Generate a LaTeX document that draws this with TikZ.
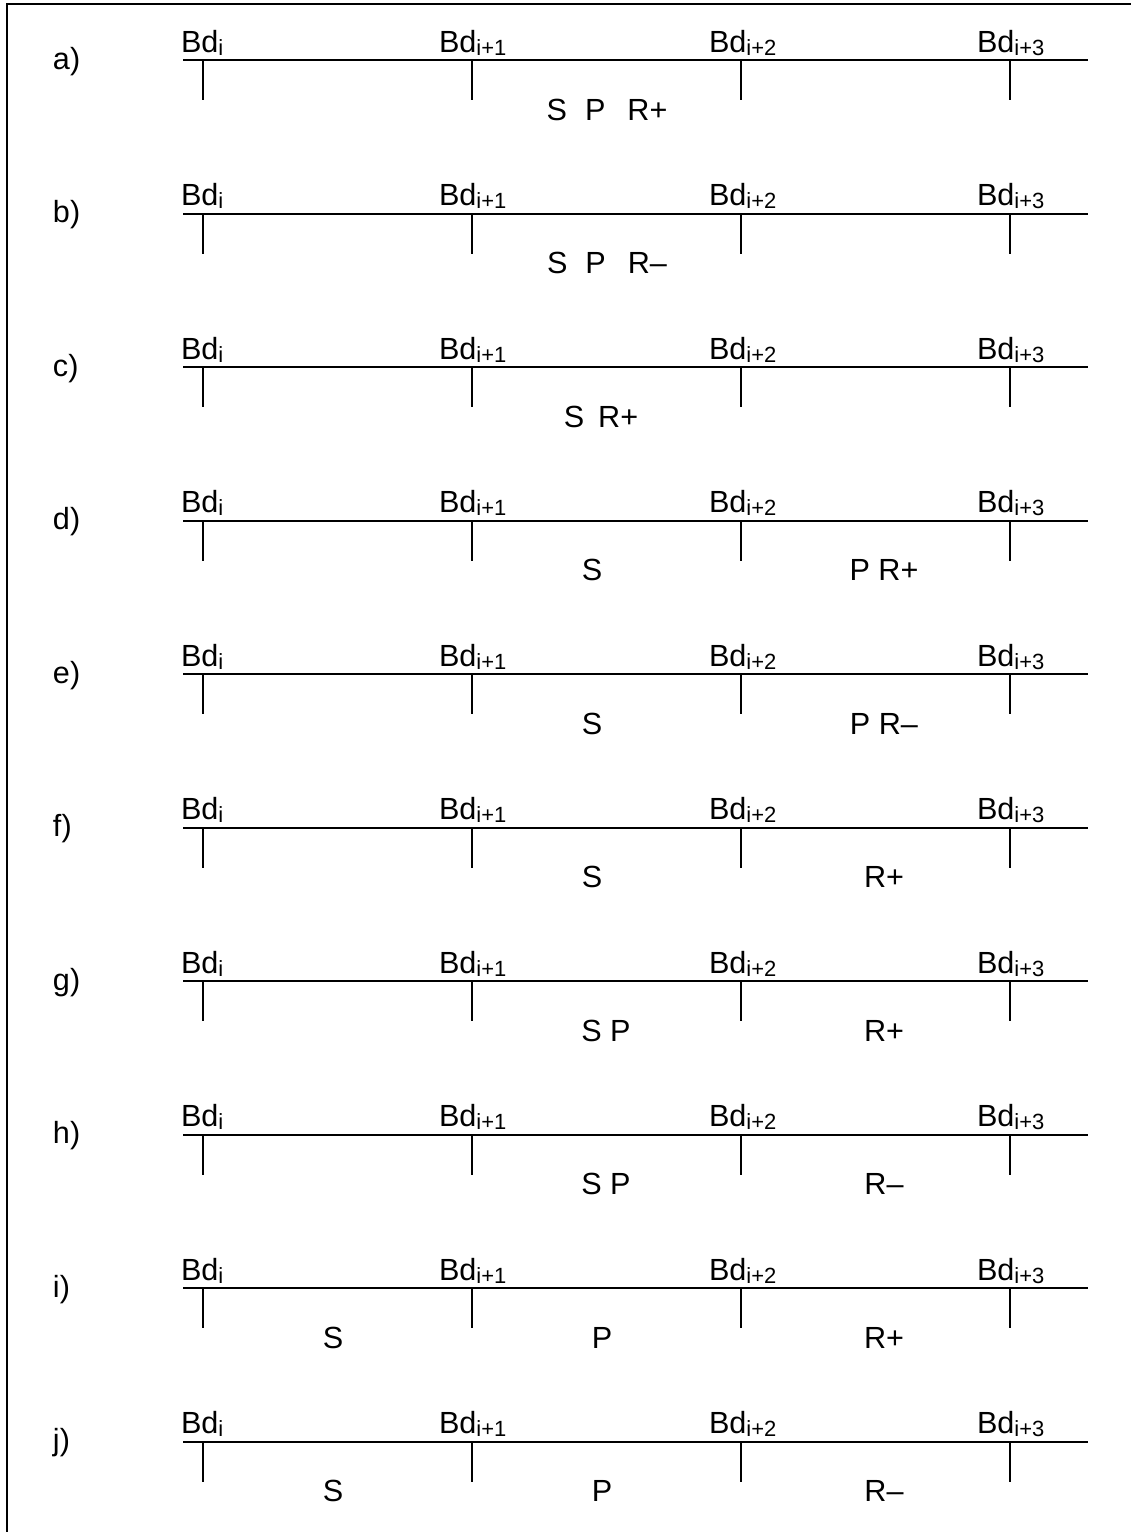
\documentclass[tikz,border=0pt]{standalone}
\usepackage{fontspec}
\setmainfont{Liberation Sans}

\newcommand{\bdsub}[1]{Bd\raisebox{-1.5pt}{\fontsize{11}{13}\selectfont #1}}

\begin{document}
\begin{tikzpicture}[x=0.5pt,y=-0.5pt,line width=1pt,
  rowlabel/.style={anchor=base west,inner sep=0pt,font=\fontsize{15.3}{18}\selectfont},
  bdlabel/.style={anchor=base west,inner sep=0pt,font=\fontsize{15.3}{18}\selectfont},
  seglabel/.style={anchor=base,inner sep=0pt,font=\fontsize{15.3}{18}\selectfont}]
  \useasboundingbox (0,0) rectangle (1131,1532);
  % Frame
  \draw[line width=1.2pt] (7,1532) -- (7,4) -- (1131,4);
  % Rows a) to j)
  \foreach \row/\sone/\stwo/\xtwo/\sthree [count=\k from 0] in {
      a/{}/{S\hspace{9pt}P\hspace{11pt}R+}/607/{},
      b/{}/{S\hspace{9pt}P\hspace{11pt}R–}/607/{},
      c/{}/{S\hspace{7pt}R+}/601/{},
      d/{}/{S}/592/{P R+},
      e/{}/{S}/592/{P R–},
      f/{}/{S}/592/{R+},
      g/{}/{S P}/606/{R+},
      h/{}/{S P}/606/{R–},
      i/{S}/{P}/602/{R+},
      j/{S}/{P}/602/{R–}}{
    \pgfmathsetmacro\y{60+153.5*\k}
    \node[rowlabel] (lbl-\row) at (52,\y+9) {\row)};
    % Axis
    \coordinate (L-\row) at (183,\y);
    \coordinate (R-\row) at (1088,\y);
    \draw (L-\row) -- (R-\row);
    % Boundaries
    \foreach \j/\tx/\bx/\sub in {0/203/180/i,1/472/438/i+1,2/741/708/i+2,3/1010/976/i+3}{
      \coordinate (t-\row-\j) at (\tx,\y);
      \draw (t-\row-\j) -- ++(0,40);
      \node[bdlabel] (bd-\row-\j) at (\bx,\y-8) {\bdsub{\sub}};
    }
    % Segment labels
    \node[seglabel] (s-\row-1) at (333,\y+60) {\sone};
    \node[seglabel] (s-\row-2) at (\xtwo,\y+60) {\stwo};
    \node[seglabel] (s-\row-3) at (884,\y+60) {\sthree};
  }
\end{tikzpicture}
\end{document}
